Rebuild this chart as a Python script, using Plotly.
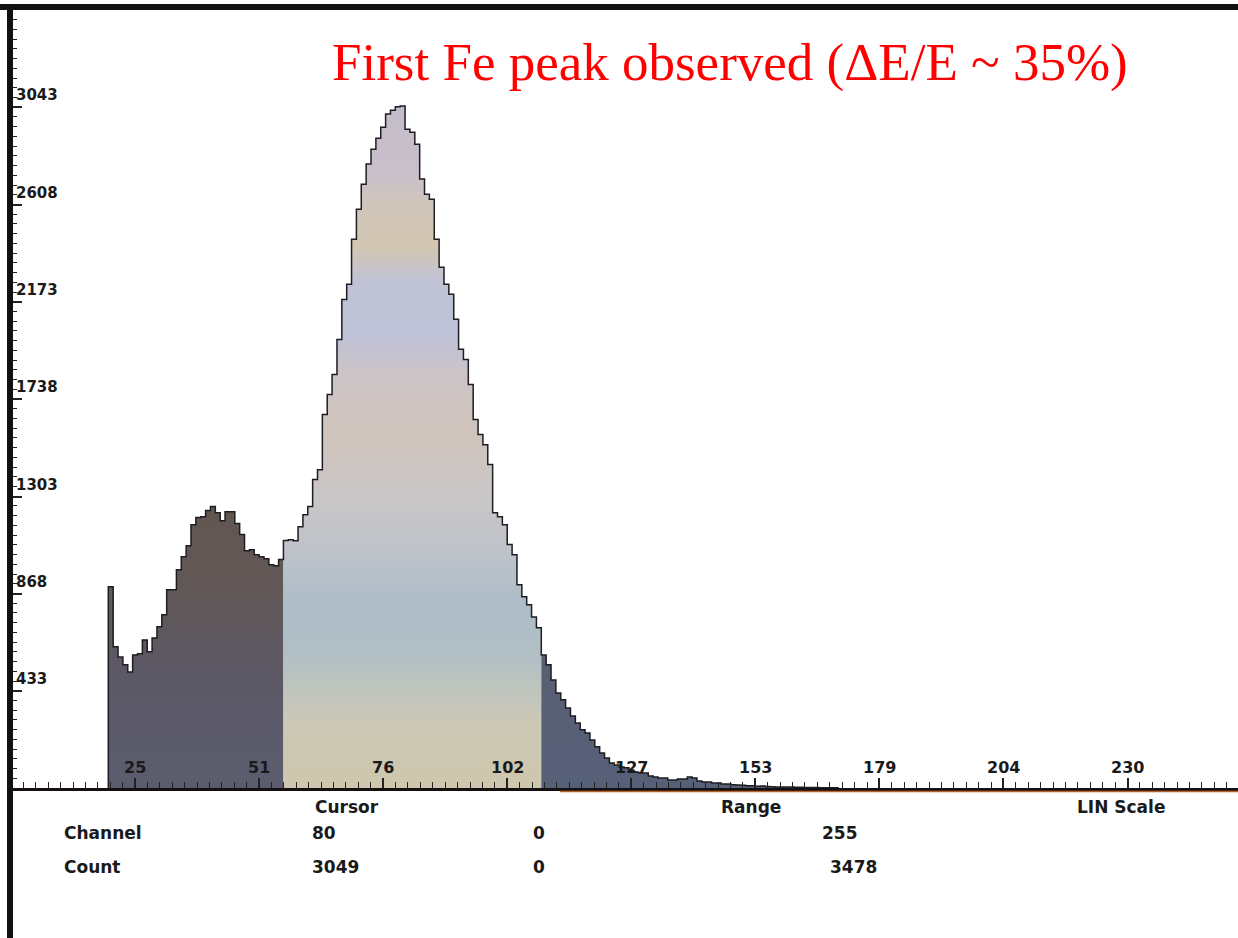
import plotly.graph_objects as go

# ---------------------------------------------------------------
# Pulse-height spectrum (multichannel analyser), counts per channel
# ---------------------------------------------------------------
first_channel = 20
counts = [
    900, 631, 586, 551, 519, 595, 600, 662, 609, 671,        # 20-29
    721, 774, 886, 886, 976, 1034, 1083, 1177, 1209, 1213,   # 30-39
    1240, 1258, 1231, 1195, 1235, 1235, 1182, 1133, 1061, 1065,  # 40-49
    1043, 1034, 1025, 998, 994, 1021, 1106, 1110, 1105, 1168,    # 50-59
    1222, 1258, 1379, 1423, 1670, 1759, 1849, 2005, 2184, 2252,  # 60-69
    2453, 2587, 2699, 2789, 2856, 2905, 2954, 3013, 3030, 3045,  # 70-79
    3049, 2945, 2932, 2878, 2722, 2654, 2632, 2453, 2328, 2252,  # 80-89
    2207, 2095, 1961, 1916, 1804, 1647, 1580, 1535, 1446, 1231,  # 90-99
    1213, 1177, 1088, 1043, 909, 855, 819, 765, 716, 595,        # 100-109
    551, 483, 425, 394, 358, 322, 291, 260, 246, 215,            # 110-119
    184, 157, 134, 112, 103, 94, 90, 81, 72, 67,                 # 120-129
    67, 54, 49, 45, 45, 36, 36, 40, 40, 49,                      # 130-139
    45, 31, 27, 27, 22, 22, 18, 18, 15, 13,                      # 140-149
    12, 10, 10, 8, 9, 7, 6, 5, 5, 4,                             # 150-159
    4, 3, 3, 2, 2, 2, 1, 1, 1, 1,                                # 160-169
]

# region of interest (highlighted channels)
roi_start, roi_end = 56, 109

# display settings / axis labels
channel_range = 255
count_range = 3478
x_tick_vals = [25.5, 51, 76.5, 102, 127.5, 153, 178.5, 204, 229.5]
x_tick_text = ["25", "51", "76", "102", "127", "153", "179", "204", "230"]
y_tick_vals = [433, 868, 1303, 1738, 2173, 2608, 3043]

# readout table
cursor_channel = 80
cursor_count = counts[cursor_channel - first_channel]
table_headers = ["Cursor", "Range", "LIN Scale"]
table_rows = ["Channel", "Count"]
cursor_vals = [str(cursor_channel), str(cursor_count)]
cursor2_vals = ["0", "0"]
range_vals = [str(channel_range), str(count_range)]

title_text = "First Fe peak observed (\u0394E/E ~ 35%)"

# ---------------------------------------------------------------
# page geometry (pixels)
W, H = 1238, 938
PL, PT, PB = 11, 10, 788
PW, PH = W - PL, PB - PT
px_per_channel = 4.865
x_max = PW / px_per_channel


def fx(px):
    return (px - PL) / PW


def fy(py):
    return (PB - py) / PH


def step_polygon(c0, c1):
    """Closed step outline for channels c0..c1-1."""
    vals = counts[c0 - first_channel:c1 - first_channel]
    xs = [c0] + list(range(c0, c1)) + [c1, c1]
    ys = [0] + vals + [vals[-1], 0]
    return xs, ys


fig = go.Figure()

dark_left = [[0, "#5b5d6e"], [0.4, "#5c5866"], [0.7, "#615857"], [1, "#625650"]]
dark_right = [[0, "#566078"], [1, "#596071"]]
roi_scale = [
    [0.00, "#cec7ad"], [0.10, "#cbc8b6"], [0.19, "#b2c0c5"], [0.27, "#adbdc8"],
    [0.34, "#bdc2ca"], [0.42, "#c9c6c7"], [0.52, "#d0c4bc"], [0.60, "#cdc4c6"],
    [0.66, "#bfc1d6"], [0.74, "#c0c2d6"], [0.79, "#d3c7b2"], [0.85, "#d1c6ba"],
    [0.90, "#c8bfcb"], [1.00, "#c4bcc8"],
]

segments = [
    (first_channel, roi_start, dark_left, 1260),
    (roi_start, roi_end, roi_scale, 3060),
    (roi_end, first_channel + len(counts), dark_right, 720),
]
for c0, c1, scale, top in segments:
    xs, ys = step_polygon(c0, c1)
    fig.add_trace(go.Scatter(
        x=xs, y=ys, mode="lines",
        line=dict(width=0, shape="hv"),
        fill="toself",
        fillgradient=dict(type="vertical", colorscale=scale, start=0, stop=top),
        hoverinfo="skip",
    ))

# histogram outline
all_x = [first_channel] + list(range(first_channel, first_channel + len(counts))) \
    + [first_channel + len(counts), first_channel + len(counts)]
all_y = [0] + counts + [counts[-1], 0]
fig.add_trace(go.Scatter(
    x=all_x, y=all_y, mode="lines",
    line=dict(color="#1d1d22", width=1.5, shape="hv"),
    hoverinfo="skip",
))

tick_font = dict(family="DejaVu Sans", size=16, color="#1a1a1a", weight="bold")
ytick_font = dict(family="DejaVu Sans", size=15, color="#1a1a1a", weight="bold")
table_font = dict(family="DejaVu Sans", size=17, color="#1a1a1a", weight="bold")

annotations = []
for v, t in zip(x_tick_vals, x_tick_text):
    annotations.append(dict(x=v, y=fy(767), xref="x", yref="paper", text=t,
                            showarrow=False, xanchor="center", yanchor="middle",
                            font=tick_font))
for v in y_tick_vals:
    annotations.append(dict(x=fx(14), y=v, xref="paper", yref="y", text=str(v),
                            showarrow=False, xanchor="left", yanchor="middle",
                            yshift=12, font=ytick_font))

annotations.append(dict(x=fx(330), y=fy(63), xref="paper", yref="paper",
                        text=title_text, showarrow=False, xanchor="left",
                        yanchor="middle",
                        font=dict(family="Liberation Serif", size=53, color="#ff0000")))

# readout table below the axis
for hdr, cx in zip(table_headers, [347, 751, 1121]):
    annotations.append(dict(x=fx(cx), y=fy(807), xref="paper", yref="paper",
                            text=hdr, showarrow=False, xanchor="center",
                            yanchor="middle", font=table_font))
for i, row_y in enumerate([833, 867]):
    for txt, lx in [(table_rows[i], 62), (cursor_vals[i], 310),
                    (cursor2_vals[i], 531), (range_vals[i], 820 + 8 * i)]:
        annotations.append(dict(x=fx(lx), y=fy(row_y), xref="paper", yref="paper",
                                text=txt, showarrow=False, xanchor="left",
                                yanchor="middle", font=table_font))

shapes = [
    # top frame
    dict(type="rect", xref="paper", yref="paper", x0=fx(0), x1=fx(W),
         y0=fy(10), y1=fy(4), fillcolor="#111111", line=dict(width=0), layer="above"),
    # left frame
    dict(type="rect", xref="paper", yref="paper", x0=fx(7), x1=fx(13),
         y0=fy(H), y1=fy(4), fillcolor="#111111", line=dict(width=0), layer="above"),
    # warm tint under the baseline on the right
    dict(type="line", xref="paper", yref="paper", x0=fx(560), x1=fx(W),
         y0=fy(791.5), y1=fy(791.5), line=dict(color="#b5652e", width=1.5),
         layer="above"),
]

fig.update_layout(
    width=W, height=H,
    margin=dict(l=PL, r=0, t=PT, b=H - PB, pad=0),
    plot_bgcolor="white", paper_bgcolor="white",
    showlegend=False,
    annotations=annotations,
    shapes=shapes,
    xaxis=dict(
        range=[0, x_max], showgrid=False, zeroline=False,
        showline=True, linecolor="#161010", linewidth=3,
        ticks="inside", tickmode="array", tickvals=x_tick_vals,
        ticklen=10, tickwidth=1.5, tickcolor="#222222",
        showticklabels=False,
        minor=dict(tickmode="linear", tick0=0, dtick=channel_range / 100,
                   ticks="inside", ticklen=6, tickwidth=1.2, tickcolor="#222222",
                   showgrid=False),
        fixedrange=True,
    ),
    yaxis=dict(
        range=[0, count_range], showgrid=False, zeroline=False,
        showline=True, linecolor="#111111", linewidth=4,
        ticks="inside", tickmode="array", tickvals=y_tick_vals,
        ticklen=11, tickwidth=1.5, tickcolor="#222222",
        showticklabels=False,
        minor=dict(tickmode="linear", tick0=0, dtick=count_range / 80,
                   ticks="inside", ticklen=6, tickwidth=1.2, tickcolor="#222222",
                   showgrid=False),
        fixedrange=True,
    ),
)

fig.write_html("out.html")
